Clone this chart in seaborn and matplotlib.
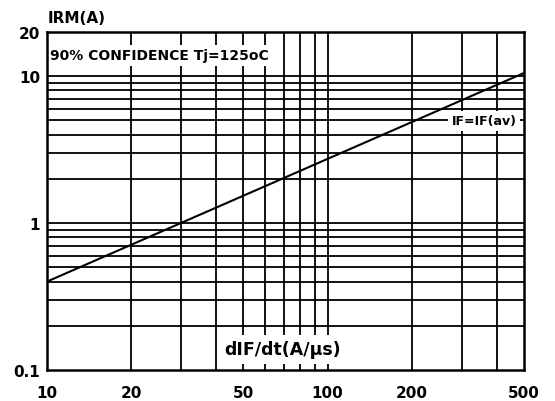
import numpy as np
import pandas as pd
import matplotlib.pyplot as plt
import seaborn as sns

# data
didt = [10, 500]          # dIF/dt (A/us)
irm = [0.4, 10.5]         # IRM (A)
x_ticks = [10, 20, 50, 100, 200, 500]
y_ticks = [0.1, 1, 10, 20]
y_tick_labels = ["0.1", "1", "10", "20"]
x_grid = [20, 30, 40, 50, 60, 70, 80, 90, 100, 200, 300, 400]
y_grid = [0.2, 0.3, 0.4, 0.5, 0.6, 0.7, 0.8, 0.9, 1, 2, 3, 4, 5, 6, 7, 8, 9, 10]

sns.set_style("white")
plt.rcParams['font.family'] = ['DejaVu Sans']
plt.rcParams['font.weight'] = 'bold'
plt.rcParams['text.color'] = 'black'
plt.rcParams['xtick.color'] = 'black'
plt.rcParams['ytick.color'] = 'black'
plt.rcParams['axes.labelcolor'] = 'black'

df = pd.DataFrame({"didt": didt, "irm": irm})

fig = plt.figure(figsize=(5.55, 4.02), dpi=100)
ax = fig.add_axes([0.0847, 0.077, 0.859, 0.841])
ax.set_xscale("log")
ax.set_yscale("log")
ax.set_xlim(10, 500)
ax.set_ylim(0.1, 20)

# heavy chart-paper grid
for gx in x_grid:
    ax.axvline(gx, color="black", lw=1.3, zorder=1)
for gy in y_grid:
    ax.axhline(gy, color="black", lw=1.3, zorder=1)

sns.lineplot(data=df, x="didt", y="irm", color="black", lw=1.5, ax=ax, zorder=3)

ax.set_xticks(x_ticks)
ax.set_xticklabels([str(v) for v in x_ticks])
ax.set_yticks(y_ticks)
ax.set_yticklabels(y_tick_labels)
ax.minorticks_off()
ax.tick_params(axis="x", length=0, labelsize=11, pad=11, labelcolor="black")
ax.tick_params(axis="y", length=0, labelsize=11, pad=5, labelcolor="black")
for lab in ax.get_xticklabels() + ax.get_yticklabels():
    lab.set_fontweight("bold")
for s in ax.spines.values():
    s.set_color("black")
    s.set_linewidth(1.8)
    s.set_zorder(5)
ax.set_xlabel("")
ax.set_ylabel("")

ax.text(0.006, 0.931, "90% CONFIDENCE Tj=125oC", transform=ax.transAxes,
        fontsize=10, fontweight="bold", ha="left", va="center", color="black",
        bbox=dict(facecolor="white", edgecolor="none", pad=2.5), zorder=4)
ax.text(0.985, 0.738, "IF=IF(av)", transform=ax.transAxes,
        fontsize=9, fontweight="bold", ha="right", va="center", color="black",
        bbox=dict(facecolor="white", edgecolor="none", pad=2.5), zorder=4)
ax.text(0.494, 0.062, "dIF/dt(A/\u00b5s)", transform=ax.transAxes,
        fontsize=12.5, fontweight="bold", ha="center", va="center", color="black",
        bbox=dict(facecolor="white", edgecolor="none", pad=4), zorder=4)
fig.text(0.085, 0.955, "IRM(A)", fontsize=11, fontweight="bold", ha="left",
         va="center", color="black")

fig.savefig("out.png", dpi=100)
